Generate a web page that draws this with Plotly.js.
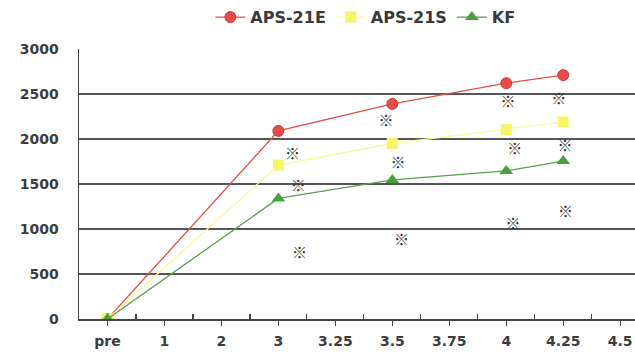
<!DOCTYPE html>
<html>
<head>
<meta charset="utf-8">
<script src="https://cdn.plot.ly/plotly-3.0.1.min.js"></script>
<style>
  html, body { margin: 0; padding: 0; background: #ffffff; }
  #chart { width: 635px; height: 355px; }
</style>
</head>
<body>
<div id="chart"></div>
<script>
// Category labels on the x axis
const categories = ['pre', '1', '2', '3', '3.25', '3.5', '3.75', '4', '4.25', '4.5'];
// Measured points
const pointCats = ['pre', '3', '3.5', '4', '4.25'];
const aps21E = [0, 2090, 2390, 2620, 2710];
const aps21S = [0, 1710, 1950, 2105, 2190];
const kf = [0, 1340, 1545, 1645, 1755];
// "※" significance marks (x in axis units, y in value units)
const noteX = [3.25, 3.35, 3.37, 4.89, 5.10, 5.16, 7.03, 7.15, 7.12, 7.92, 8.03, 8.04];
const noteY = [1820, 1460, 715, 2190, 1715, 865, 2400, 1870, 1040, 2430, 1910, 1180];
const yTicks = [0, 500, 1000, 1500, 2000, 2500, 3000];

const xIdx = pointCats.map(c => categories.indexOf(c));
const catIdx = categories.map((c, i) => i);
const minorIdx = categories.slice(0, -1).map((c, i) => i + 0.5);

const tickFont = { family: 'DejaVu Sans, Arial, sans-serif', size: 14, color: '#3c3c3c', weight: 'bold' };

const traces = [
  {
    name: 'APS-21E', x: xIdx, y: aps21E, type: 'scatter', mode: 'lines+markers',
    line: { color: '#e0504a', width: 1.3 },
    marker: { symbol: 'circle', size: 11, color: '#ea4a48', line: { color: '#c83a36', width: 1 } }
  },
  {
    name: 'APS-21S', x: xIdx, y: aps21S, type: 'scatter', mode: 'lines+markers',
    line: { color: '#fbfb9a', width: 1.3 },
    marker: { symbol: 'square', size: 11, color: '#f6f66a', line: { width: 0 } }
  },
  {
    name: 'KF', x: xIdx, y: kf, type: 'scatter', mode: 'lines+markers',
    line: { color: '#5a9e4c', width: 1.3 },
    marker: { symbol: 'triangle-up', size: 12, color: '#48a03c', line: { width: 0 } }
  },
  {
    name: 'note', x: noteX, y: noteY, type: 'scatter', mode: 'text',
    text: noteX.map(() => '※'), showlegend: false, hoverinfo: 'skip',
    textfont: { family: 'Noto Sans CJK KR, sans-serif', size: 15, color: '#333333', weight: 'bold' },
    textposition: 'middle center'
  }
];

const layout = {
  width: 635, height: 355,
  margin: { l: 79, r: 0, t: 49, b: 36 },
  paper_bgcolor: '#ffffff', plot_bgcolor: '#ffffff',
  showlegend: true,
  legend: {
    orientation: 'h', x: 0.515, xanchor: 'center', y: 1.118, yanchor: 'middle',
    font: { family: 'DejaVu Sans, Arial, sans-serif', size: 16, color: '#3a3a3a', weight: 'bold' },
    itemwidth: 30, tracegroupgap: 0
  },
  xaxis: {
    type: 'linear', range: [-0.5, 9.26],
    tickmode: 'array', tickvals: catIdx, ticktext: categories,
    ticks: 'outside', ticklen: 5, tickwidth: 1.2, tickcolor: '#444',
    ticklabelstandoff: 4,
    minor: { tickmode: 'array', tickvals: minorIdx, ticks: 'inside', ticklen: 5, tickwidth: 1.2, tickcolor: '#444', showgrid: false },
    showline: true, linecolor: '#444', linewidth: 1.5,
    showgrid: false, zeroline: false,
    tickfont: tickFont, fixedrange: true
  },
  yaxis: {
    range: [0, 3000],
    tickmode: 'array', tickvals: yTicks,
    ticks: '', ticklabelstandoff: 16,
    showline: true, linecolor: '#444', linewidth: 1.5,
    showgrid: true, gridcolor: '#555555', gridwidth: 1.4,
    zeroline: false,
    tickfont: tickFont, fixedrange: true
  }
};

Plotly.newPlot('chart', traces, layout, { displayModeBar: false, staticPlot: true });
</script>
</body>
</html>
